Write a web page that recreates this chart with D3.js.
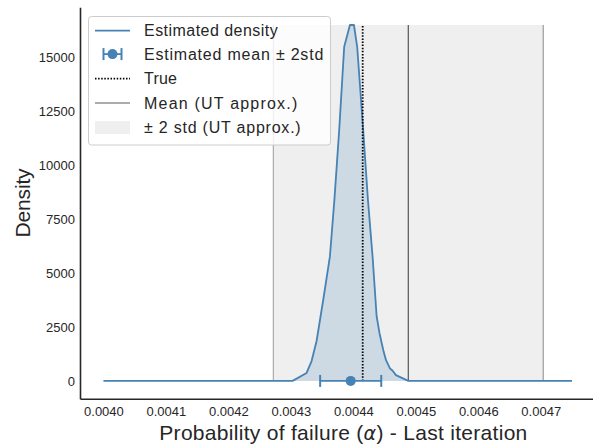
<!DOCTYPE html>
<html>
<head>
<meta charset="utf-8">
<script src="https://cdn.jsdelivr.net/npm/d3@7"></script>
<style>
  html, body { margin: 0; padding: 0; background: #fff; }
  svg { display: block; }
  text { font-family: "Liberation Sans", Arial, sans-serif; fill: #262626; }
</style>
</head>
<body>
<svg id="chart" width="593" height="447"></svg>
<script>
// ---- data ----
const densityX = [0.0040, 0.0043028, 0.0043252, 0.0043332, 0.0043412, 0.0043518, 0.0043625,
  0.0043697, 0.0043774, 0.0043854, 0.0043946, 0.0044010, 0.0044062, 0.0044158, 0.0044234,
  0.0044310, 0.0044373, 0.0044420, 0.0044479, 0.0044522, 0.0044586, 0.0044629, 0.0044682,
  0.0044880, 0.00475];
const densityY = [0, 0, 370, 920, 1850, 3750, 5760,
  8390, 11630, 15490, 16500, 16500, 15490, 11630, 8390,
  5700, 3000, 2200, 1430, 970, 580, 470, 270,
  0, 0];
const trueValue = 0.004415;
const utMean = 0.004488;
const utStd = 0.000108;
const estMean = 0.0043958;
const estStd = 0.00002445;
const xTicks = [0.0040, 0.0041, 0.0042, 0.0043, 0.0044, 0.0045, 0.0046, 0.0047];
const yTicks = [0, 2500, 5000, 7500, 10000, 12500, 15000];
const legendLabels = ["Estimated density", "Estimated mean \u00b1 2std", "True",
  "Mean (UT approx.)", "\u00b1 2 std (UT approx.)"];
const xLabelParts = ["Probability of failure (", "\u03b1", ") - Last iteration"];
const yLabel = "Density";

(function () {
// ---- layout ----
const svg = d3.select("#chart");
const mLeft = 80, mRight = 595.4, mTop = 7.2, mBottom = 398.7;
const x = d3.scaleLinear().domain([0.0039625, 0.0047875]).range([mLeft, mRight]);
const y = d3.scaleLinear().domain([-825, 17325]).range([mBottom, mTop]);
const blue = "#4682b4";
const maxD = d3.max(densityY);
const legendTextWidths = [133.7, 179.3, 33, 153.3, 156.7];

const g = svg.append("g");

// UT band
g.append("rect")
  .attr("x", x(utMean - 2 * utStd)).attr("width", x(utMean + 2 * utStd) - x(utMean - 2 * utStd))
  .attr("y", y(maxD)).attr("height", y(0) - y(maxD))
  .attr("fill", "#efefef");
g.append("line")
  .attr("x1", x(utMean - 2 * utStd)).attr("x2", x(utMean - 2 * utStd))
  .attr("y1", y(0)).attr("y2", y(maxD))
  .attr("stroke", "#aaaaaa").attr("stroke-width", 1.2);
g.append("line")
  .attr("x1", x(utMean + 2 * utStd)).attr("x2", x(utMean + 2 * utStd))
  .attr("y1", y(0)).attr("y2", y(maxD))
  .attr("stroke", "#9a9a9a").attr("stroke-width", 1.2);

const pts = densityX.map((v, i) => [v, densityY[i]]);

// density fill
g.append("path")
  .datum(pts)
  .attr("d", d3.area().x(d => x(d[0])).y0(y(0)).y1(d => y(d[1])))
  .attr("fill", blue).attr("fill-opacity", 0.2);

// UT mean line
g.append("line")
  .attr("x1", x(utMean)).attr("x2", x(utMean))
  .attr("y1", y(0)).attr("y2", y(maxD))
  .attr("stroke", "#000").attr("stroke-opacity", 0.65).attr("stroke-width", 1.2);

// density line
g.append("path")
  .datum(pts)
  .attr("d", d3.line().x(d => x(d[0])).y(d => y(d[1])))
  .attr("fill", "none").attr("stroke", blue).attr("stroke-width", 1.8)
  .attr("stroke-linejoin", "round");

// True line
g.append("line")
  .attr("x1", x(trueValue)).attr("x2", x(trueValue))
  .attr("y1", y(0)).attr("y2", y(maxD))
  .attr("stroke", "#000").attr("stroke-width", 1.8).attr("stroke-dasharray", "1.5,1.6");

// error bar
const eb = g.append("g");
eb.append("line")
  .attr("x1", x(estMean - 2 * estStd)).attr("x2", x(estMean + 2 * estStd))
  .attr("y1", y(0)).attr("y2", y(0))
  .attr("stroke", blue).attr("stroke-width", 1.8);
[estMean - 2 * estStd, estMean + 2 * estStd].forEach(v => {
  eb.append("line")
    .attr("x1", x(v)).attr("x2", x(v))
    .attr("y1", y(0) - 6).attr("y2", y(0) + 6)
    .attr("stroke", blue).attr("stroke-width", 2);
});
eb.append("circle").attr("cx", x(estMean)).attr("cy", y(0)).attr("r", 5).attr("fill", blue);

// axes (spines only, no tick marks)
const xAxis = d3.axisBottom(x).tickValues(xTicks).tickFormat(d3.format(".4f")).tickSize(0).tickPadding(8);
const xg = svg.append("g").attr("transform", `translate(0,${mBottom})`).call(xAxis);
xg.select(".domain").attr("stroke", "#262626").attr("stroke-width", 1.6);
xg.selectAll("text").attr("font-size", "13px").attr("fill", "#262626")
  .attr("font-family", "Liberation Sans, Arial, sans-serif");

const yAxis = d3.axisLeft(y).tickValues(yTicks).tickFormat(d3.format("d")).tickSize(0).tickPadding(5);
const yg = svg.append("g").attr("transform", `translate(${mLeft},0)`).call(yAxis);
yg.select(".domain").attr("stroke", "#262626").attr("stroke-width", 1.6);
yg.selectAll("text").attr("font-size", "13px").attr("fill", "#262626")
  .attr("font-family", "Liberation Sans, Arial, sans-serif");

// axis labels
const xl = svg.append("text").attr("x", 159.3).attr("y", 440)
  .attr("font-size", "21px").attr("textLength", 368).attr("lengthAdjust", "spacing");
xl.append("tspan").text(xLabelParts[0]);
xl.append("tspan").attr("font-style", "italic").attr("font-family", "DejaVu Sans, sans-serif")
  .attr("font-size", "19px").text(xLabelParts[1]);
xl.append("tspan").text(xLabelParts[2]);

svg.append("text").attr("transform", `translate(30,${(mTop + mBottom) / 2}) rotate(-90)`)
  .attr("text-anchor", "middle").attr("font-size", "21px")
  .attr("textLength", 69).attr("lengthAdjust", "spacing").text(yLabel);

// legend
const lg = svg.append("g");
lg.append("rect").attr("x", 88.5).attr("y", 16.5).attr("width", 242).attr("height", 128.5)
  .attr("rx", 3).attr("fill", "#fff").attr("fill-opacity", 0.8)
  .attr("stroke", "#cccccc").attr("stroke-width", 1);
const rowY = [30.7, 54.1, 78.6, 103, 127.6];
const hx0 = 95, hx1 = 130, tx = 144;
lg.append("line").attr("x1", hx0).attr("x2", hx1).attr("y1", rowY[0]).attr("y2", rowY[0])
  .attr("stroke", blue).attr("stroke-width", 1.8);
lg.append("line").attr("x1", 103.5).attr("x2", 121.5).attr("y1", rowY[1]).attr("y2", rowY[1])
  .attr("stroke", blue).attr("stroke-width", 1.8);
[103.5, 121.5].forEach(cx => lg.append("line").attr("x1", cx).attr("x2", cx)
  .attr("y1", rowY[1] - 6).attr("y2", rowY[1] + 6).attr("stroke", blue).attr("stroke-width", 2));
lg.append("circle").attr("cx", 112.5).attr("cy", rowY[1]).attr("r", 5).attr("fill", blue);
lg.append("line").attr("x1", hx0).attr("x2", hx1).attr("y1", rowY[2]).attr("y2", rowY[2])
  .attr("stroke", "#000").attr("stroke-width", 1.8).attr("stroke-dasharray", "1.5,1.6");
lg.append("line").attr("x1", hx0).attr("x2", hx1).attr("y1", rowY[3]).attr("y2", rowY[3])
  .attr("stroke", "#000").attr("stroke-opacity", 0.65).attr("stroke-width", 1.2);
lg.append("rect").attr("x", hx0).attr("y", rowY[4] - 6.5).attr("width", hx1 - hx0).attr("height", 13)
  .attr("fill", "#efefef");
lg.selectAll("text.lbl").data(legendLabels).enter().append("text")
  .attr("class", "lbl")
  .attr("x", tx).attr("y", (d, i) => rowY[i]).attr("dy", "0.35em")
  .attr("font-size", "16px")
  .attr("textLength", (d, i) => legendTextWidths[i]).attr("lengthAdjust", "spacing")
  .text(d => d);
})();
</script>
</body>
</html>
